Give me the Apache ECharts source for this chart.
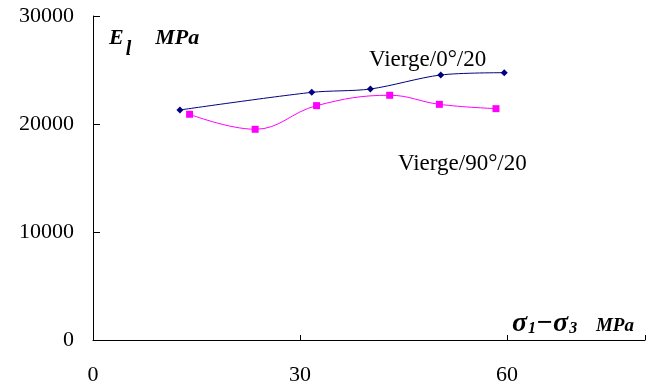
<!DOCTYPE html>
<html>
<head>
<meta charset="utf-8">
<script src="https://cdn.jsdelivr.net/npm/echarts@6/dist/echarts.min.js"></script>
<style>html,body{margin:0;padding:0;background:#fff}#c{width:659px;height:387px}</style>
</head>
<body>
<div id="c"></div>
<script>
const xTicks = [0, 30, 60];
const yTicks = [0, 10000, 20000, 30000];
const v0x = [12.6, 31.7, 40.2, 50.4, 59.6];
const v0y = [21300, 22930, 23240, 24540, 24750];
const v90x = [14.0, 23.5, 32.4, 43.0, 50.2, 58.4];
const v90y = [20900, 19510, 21700, 22660, 21820, 21420];
const seriesNames = ['Vierge/0°/20', 'Vierge/90°/20'];

const font = '"Liberation Serif", "Times New Roman", serif';
const chart = echarts.init(document.getElementById('c'), null, {renderer: 'canvas'});
chart.setOption({
  animation: false,
  grid: {left: 93, top: 16, right: 14, bottom: 47, containLabel: false},
  xAxis: {
    type: 'value', min: 0, max: 80, interval: 30,
    axisLine: {show: true, lineStyle: {color: '#000', width: 1}},
    axisTick: {show: true, inside: true, length: 5, lineStyle: {color: '#000'}},
    splitLine: {show: false},
    axisLabel: {
      margin: 24, color: '#000', fontFamily: font, fontSize: 22,
      formatter: v => (xTicks.indexOf(v) >= 0 ? String(v) : '')
    }
  },
  yAxis: {
    type: 'value', min: 0, max: 30000, interval: 10000,
    axisLine: {show: true, lineStyle: {color: '#000', width: 1}},
    axisTick: {show: true, inside: true, length: 7, lineStyle: {color: '#000'}},
    splitLine: {show: false},
    axisLabel: {
      margin: 19, color: '#000', fontFamily: font, fontSize: 22,
      formatter: v => (yTicks.indexOf(v) >= 0 ? String(v) : '')
    }
  },
  series: [
    {
      name: seriesNames[0], type: 'line', smooth: 0.3,
      data: v0x.map((x, i) => [x, v0y[i]]),
      symbol: 'diamond', symbolSize: 7,
      lineStyle: {color: '#000080', width: 1},
      itemStyle: {color: '#000080'}
    },
    {
      name: seriesNames[1], type: 'line', smooth: 0.4,
      data: v90x.map((x, i) => [x, v90y[i]]),
      symbol: 'rect', symbolSize: 7,
      lineStyle: {color: '#FF00FF', width: 1},
      itemStyle: {color: '#FF00FF'}
    }
  ],
  graphic: [
    {type: 'text', left: 369, top: 48, style: {text: seriesNames[0], font: '23px ' + font, fill: '#000'}},
    {type: 'text', left: 398, top: 152, style: {text: seriesNames[1], font: '23px ' + font, fill: '#000'}},
    {type: 'text', left: 109, top: 27, style: {
      text: '{e|E}{s|l}{g|      }{m|MPa}',
      rich: {
        e: {fontFamily: font, fontSize: 22, fontWeight: 'bold', fontStyle: 'italic', fill: '#000', verticalAlign: 'top'},
        s: {fontFamily: font, fontSize: 20, fontWeight: 'bold', fontStyle: 'italic', fill: '#000', padding: [13, 0, 0, 2]},
        g: {fontFamily: font, fontSize: 16},
        m: {fontFamily: font, fontSize: 22, fontWeight: 'bold', fontStyle: 'italic', fill: '#000', verticalAlign: 'top'}
      }
    }},
    {type: 'text', left: 512, top: 310, style: {
      text: '{e|σ}{s|1}{e|−σ}{s|3}{g|     }{m|MPa}',
      rich: {
        e: {fontFamily: font, fontSize: 28, fontWeight: 'bold', fontStyle: 'italic', fill: '#000'},
        s: {fontFamily: font, fontSize: 16, fontWeight: 'bold', fontStyle: 'italic', fill: '#000', padding: [9, 0, 0, 1]},
        g: {fontFamily: font, fontSize: 15},
        m: {fontFamily: font, fontSize: 19, fontWeight: 'bold', fontStyle: 'italic', fill: '#000', padding: [4, 0, 0, 0]}
      }
    }}
  ]
});
</script>
</body>
</html>
